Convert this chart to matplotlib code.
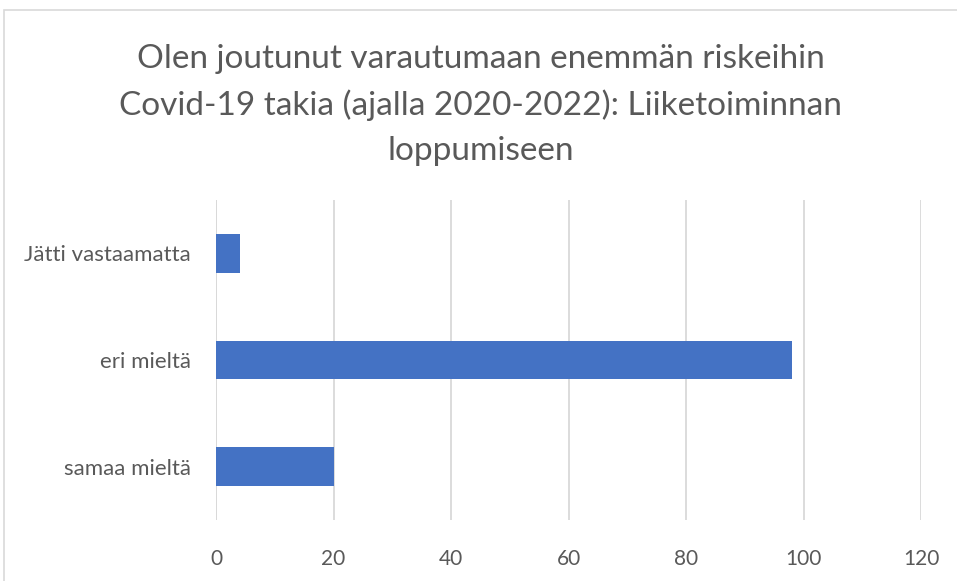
import matplotlib.pyplot as plt
from matplotlib.patches import Rectangle

categories = ['samaa mieltä', 'eri mieltä', 'Jätti vastaamatta']
values = [20, 98, 4]
xticks = [0, 20, 40, 60, 80, 100, 120]
title = ('Olen joutunut varautumaan enemmän riskeihin\n'
         'Covid-19 takia (ajalla 2020-2022): Liiketoiminnan\n'
         'loppumiseen')

plt.rcParams['font.family'] = ['Lato', 'DejaVu Sans']

fig = plt.figure(figsize=(9.57, 5.81), dpi=100)
ax = fig.add_axes([216 / 957, 1 - 520 / 581, 705 / 957, 320 / 581])

ax.barh(range(len(categories)), values, height=0.36, color='#4472C4', zorder=3)
ax.set_xlim(0, 120)
ax.set_ylim(-0.5, len(categories) - 0.5)
ax.set_xticks(xticks)
ax.set_yticks(range(len(categories)))
ax.set_yticklabels(categories)
ax.grid(axis='x', color='#D9D9D9', linewidth=1.3, zorder=0)
for s in ax.spines.values():
    s.set_visible(False)
ax.axvline(0, color='#D9D9D9', linewidth=1.3, zorder=2)
ax.tick_params(length=0, labelsize=15, labelcolor='#595959')
ax.tick_params(axis='x', pad=21)
ax.tick_params(axis='y', pad=18, labelsize=16)

fig.text(0.502, 1 - 105 / 581, title, ha='center', va='center',
         fontsize=24, color='#595959', linespacing=1.62)

# chart frame
fig.patches.append(Rectangle((4 / 957, -0.1), 1.1, 1 - 10 / 581 + 0.1,
                             transform=fig.transFigure, fill=False,
                             edgecolor='#D9D9D9', linewidth=1.2))

plt.savefig('out.png')
